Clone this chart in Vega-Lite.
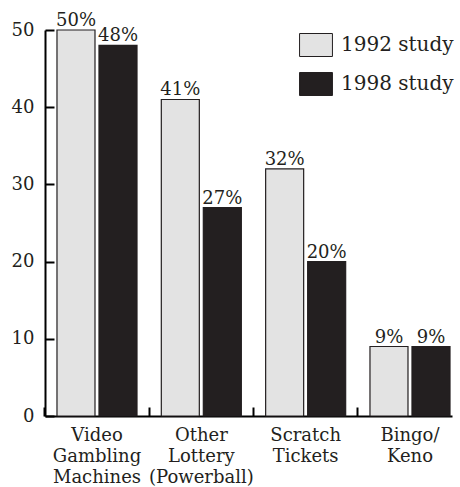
{
  "$schema": "https://vega.github.io/schema/vega-lite/v6.json",
  "width": 407,
  "height": 386,
  "autosize": {"type": "none"},
  "padding": {"left": 45, "top": 30, "right": 8, "bottom": 71},
  "background": "white",
  "config": {
    "view": {"stroke": null},
    "font": "DejaVu Serif",
    "axis": {
      "title": null,
      "grid": false,
      "domainColor": "#000000",
      "domainWidth": 2,
      "tickColor": "#000000",
      "tickWidth": 2,
      "labelColor": "#231f20",
      "labelFontSize": 18,
      "labelFont": "DejaVu Serif"
    }
  },
  "data": {
    "values": [
      {"category": "Video Gambling Machines", "study": "1992 study", "percent": 50},
      {"category": "Video Gambling Machines", "study": "1998 study", "percent": 48},
      {"category": "Other Lottery (Powerball)", "study": "1992 study", "percent": 41},
      {"category": "Other Lottery (Powerball)", "study": "1998 study", "percent": 27},
      {"category": "Scratch Tickets", "study": "1992 study", "percent": 32},
      {"category": "Scratch Tickets", "study": "1998 study", "percent": 20},
      {"category": "Bingo/ Keno", "study": "1992 study", "percent": 9},
      {"category": "Bingo/ Keno", "study": "1998 study", "percent": 9}
    ]
  },
  "encoding": {
    "x": {
      "field": "category",
      "type": "nominal",
      "sort": null,
      "scale": {"paddingInner": 0.233, "paddingOuter": 0.067, "align": 0.857},
      "axis": {
        "labelAngle": 0,
        "tickSize": -9,
        "bandPosition": -0.152,
        "labelExpr": "split(datum.value, ' ')",
        "labelLineHeight": 21,
        "labelPadding": 19
      }
    },
    "xOffset": {
      "field": "study",
      "type": "nominal",
      "scale": {"paddingInner": 0.095, "paddingOuter": 0}
    },
    "y": {
      "field": "percent",
      "type": "quantitative",
      "scale": {"domain": [0, 50], "nice": false},
      "axis": {
        "values": [0, 10, 20, 30, 40, 50],
        "tickSize": -9,
        "labelPadding": 20
      }
    }
  },
  "layer": [
    {
      "mark": {"type": "bar", "stroke": "#231f20", "strokeWidth": 1.2},
      "encoding": {
        "fill": {
          "field": "study",
          "type": "nominal",
          "scale": {"domain": ["1992 study", "1998 study"], "range": ["#e3e3e3", "#231f20"]},
          "legend": {
            "title": null,
            "orient": "none",
            "legendX": 259,
            "legendY": 3,
            "padding": 0,
            "symbolType": "M-1.43,-1H1.43V1H-1.43Z",
            "symbolSize": 529,
            "symbolStrokeColor": "#231f20",
            "symbolStrokeWidth": 1,
            "symbolOpacity": 1,
            "labelFontSize": 20,
            "labelColor": "#231f20",
            "labelOffset": 13,
            "rowPadding": 11
          }
        }
      }
    },
    {
      "transform": [{"calculate": "datum.percent + '%'", "as": "label"}],
      "mark": {"type": "text", "baseline": "alphabetic", "dy": -4, "fontSize": 18, "color": "#231f20"},
      "encoding": {"text": {"field": "label", "type": "nominal"}}
    }
  ]
}
